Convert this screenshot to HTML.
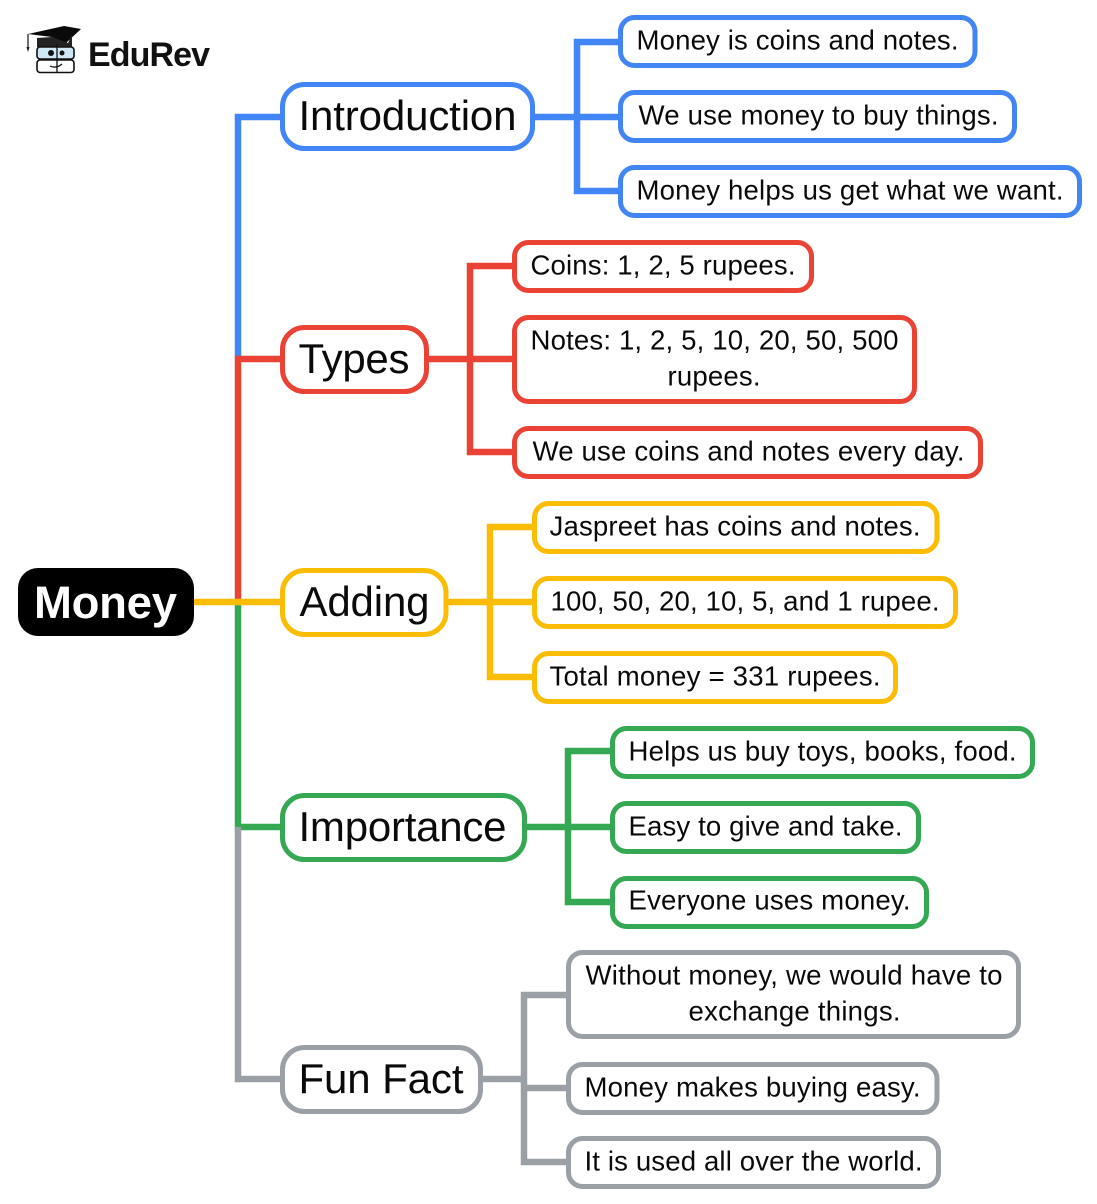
<!DOCTYPE html>
<html><head><meta charset="utf-8"><style>
html,body{margin:0;padding:0;background:#fff}
svg{display:block}
text{font-family:"Liberation Sans",Arial,sans-serif;fill:#0a0a0a}
.l{font-size:27.6px}
.t{font-size:42px}
rect{fill:#fff;stroke-width:5}
path{fill:none;stroke-width:6.5}
</style></head><body>
<svg width="1097" height="1204" viewBox="0 0 1097 1204" xmlns="http://www.w3.org/2000/svg">
<!-- main connectors -->
<path stroke="#4285f4" d="M283 117H238V358"/>
<path stroke="#ea4335" d="M283 359H238V602"/>
<path stroke="#34a853" d="M238 602V827H283"/>
<path stroke="#9aa0a6" d="M238 827V1079H283"/>
<path stroke="#fbbc04" d="M194 602H283"/>
<!-- branches -->
<path stroke="#4285f4" d="M532 117H621M621 42H577V191H621"/>
<path stroke="#ea4335" d="M426 359H515M515 266H470V452H515"/>
<path stroke="#fbbc04" d="M445 602H535M535 527H490V677H535"/>
<path stroke="#34a853" d="M524 827H613M613 751H568V902H613"/>
<path stroke="#9aa0a6" d="M480 1079H524M569 995H524V1162H569M524 1088H569"/>
<!-- root -->
<rect x="18" y="568" width="176" height="68" rx="20" style="fill:#000;stroke:none"/>
<text x="34" y="618" font-size="45.5" font-weight="700" style="fill:#fff" textLength="143">Money</text>
<!-- topics -->
<g stroke="#4285f4">
<rect x="282.500" y="84.500" width="250" height="64" rx="22"/>
<rect x="620.500" y="17.500" width="354.500" height="48" rx="14"/>
<rect x="620.500" y="92.500" width="394" height="48" rx="14"/>
<rect x="620.500" y="167.500" width="459" height="48" rx="14"/>
</g>
<g stroke="#ea4335">
<rect x="282.500" y="327.500" width="144" height="64" rx="22"/>
<rect x="514.500" y="242.500" width="297" height="48" rx="14"/>
<rect x="514.500" y="317.500" width="400" height="84" rx="14"/>
<rect x="514.500" y="428.500" width="466" height="48" rx="14"/>
</g>
<g stroke="#fbbc04">
<rect x="282.500" y="570.500" width="163.500" height="64" rx="22"/>
<rect x="534.500" y="503.500" width="402.500" height="48" rx="14"/>
<rect x="534.500" y="578.500" width="421" height="48" rx="14"/>
<rect x="534.500" y="653.500" width="361" height="48" rx="14"/>
</g>
<g stroke="#34a853">
<rect x="282.500" y="795.500" width="242" height="64" rx="22"/>
<rect x="612.500" y="728.500" width="420" height="48" rx="14"/>
<rect x="612.500" y="803.500" width="306" height="48" rx="14"/>
<rect x="612.500" y="878.500" width="314" height="48" rx="14"/>
</g>
<g stroke="#9aa0a6">
<rect x="282.500" y="1047.500" width="198" height="64" rx="22"/>
<rect x="568.500" y="952.500" width="450" height="84" rx="14"/>
<rect x="568.500" y="1064.500" width="368.500" height="48" rx="14"/>
<rect x="568.500" y="1138.500" width="370" height="48" rx="14"/>
</g>
<g transform="translate(-0.5,-1)">
<text class="t" x="299" y="131" textLength="218">Introduction</text>
<text class="t" x="299" y="374" textLength="111">Types</text>
<text class="t" x="300" y="617" textLength="130">Adding</text>
<text class="t" x="299" y="842" textLength="208">Importance</text>
<text class="t" x="299" y="1094" textLength="165">Fun Fact</text>
</g>
<g transform="translate(-0.5,-0.5)">
<text class="l" x="637" y="50" textLength="322">Money is coins and notes.</text>
<text class="l" x="639" y="125" textLength="360">We use money to buy things.</text>
<text class="l" x="637" y="200" textLength="427">Money helps us get what we want.</text>
<text class="l" x="531" y="275" textLength="265">Coins: 1, 2, 5 rupees.</text>
<text class="l" x="531" y="350" textLength="368">Notes: 1, 2, 5, 10, 20, 50, 500</text>
<text class="l" x="668" y="386" textLength="93">rupees.</text>
<text class="l" x="533" y="461" textLength="432">We use coins and notes every day.</text>
<text class="l" x="550" y="536" textLength="371">Jaspreet has coins and notes.</text>
<text class="l" x="551" y="611" textLength="389">100, 50, 20, 10, 5, and 1 rupee.</text>
<text class="l" x="550" y="686" textLength="331">Total money = 331 rupees.</text>
<text class="l" x="629" y="761" textLength="388">Helps us buy toys, books, food.</text>
<text class="l" x="629" y="836" textLength="274">Easy to give and take.</text>
<text class="l" x="629" y="910" textLength="282">Everyone uses money.</text>
<text class="l" x="586" y="985" textLength="417">Without money, we would have to</text>
<text class="l" x="689" y="1021" textLength="212">exchange things.</text>
<text class="l" x="585" y="1097" textLength="336">Money makes buying easy.</text>
<text class="l" x="585" y="1171" textLength="338">It is used all over the world.</text>
</g>
<!-- logo -->
<g>
<path d="M28 34L64 26L81 29L66 43L52 37Z" style="fill:#0a0a0a;stroke:none"/>
<path d="M37 38L52 37L68 43L72 35V47H37Z" style="fill:#222;stroke:none"/>
<path d="M28 34V48" style="stroke:#111;stroke-width:1.2"/>
<path d="M26.500 47H29.500L28 52Z" style="fill:#111;stroke:none"/>
<rect x="37" y="47" width="37" height="12" rx="3" style="fill:#cfe8f5;stroke:#111;stroke-width:1.6"/>
<rect x="37" y="60" width="37" height="12.500" rx="3" style="fill:#fff;stroke:#111;stroke-width:1.6"/>
<path d="M57 44V72" style="stroke:#111;stroke-width:1.3"/>
<circle cx="51" cy="53" r="3" style="fill:#111"/>
<circle cx="62" cy="53" r="2.500" style="fill:#111"/>
<path d="M50 66Q56 69 62 64" style="stroke:#111;stroke-width:1.2"/>
<text x="88" y="66" font-size="34" font-weight="700" textLength="122" style="fill:#111">EduRev</text>
</g>
</svg>
</body></html>
